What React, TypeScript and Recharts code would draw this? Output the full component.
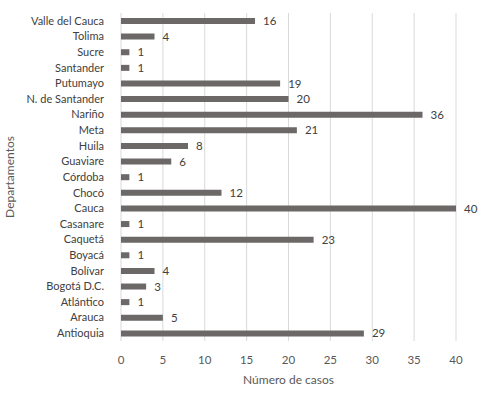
import React from "react";
import {
  BarChart,
  Bar,
  XAxis,
  YAxis,
  CartesianGrid,
  LabelList,
  Label,
} from "recharts";

const departamentos = [
  "Valle del Cauca",
  "Tolima",
  "Sucre",
  "Santander",
  "Putumayo",
  "N. de Santander",
  "Nariño",
  "Meta",
  "Huila",
  "Guaviare",
  "Córdoba",
  "Chocó",
  "Cauca",
  "Casanare",
  "Caquetá",
  "Boyacá",
  "Bolívar",
  "Bogotá D.C.",
  "Atlántico",
  "Arauca",
  "Antioquia",
];

const casos = [16, 4, 1, 1, 19, 20, 36, 21, 8, 6, 1, 12, 40, 1, 23, 1, 4, 3, 1, 5, 29];

const xTicks = [0, 5, 10, 15, 20, 25, 30, 35, 40];

const data = departamentos.map((name, i) => ({ name, casos: casos[i] }));

const FONT = "Lato, 'Open Sans', sans-serif";
const TEXT = "#595959";

function YTitle(props: any) {
  const vb = props.viewBox || {};
  const x = 9;
  const y = vb.y + vb.height / 2;
  return (
    <text
      x={x}
      y={y}
      transform={`rotate(-90, ${x}, ${y})`}
      textAnchor="middle"
      dominantBaseline="central"
      fill={TEXT}
      fontSize={12}
      fontFamily={FONT}
    >
      Departamentos
    </text>
  );
}

export default function App() {
  return (
    <div style={{ position: "absolute", left: 0, top: 0, background: "#fff" }}>
      <BarChart
        width={478}
        height={395}
        data={data}
        layout="vertical"
        margin={{ top: 13, right: 22, left: 0, bottom: 0 }}
      >
        <CartesianGrid stroke="#d9d9d9" horizontal={false} />
        <XAxis
          type="number"
          domain={[0, 40]}
          ticks={xTicks}
          axisLine={false}
          tickLine={false}
          tickMargin={9}
          height={54}
          tick={{ fill: TEXT, fontSize: 11.5, fontFamily: FONT }}
        >
          <Label
            value="Número de casos"
            position="insideBottom"
            offset={11}
            fill={TEXT}
            fontSize={12}
            fontFamily={FONT}
          />
        </XAxis>
        <YAxis
          type="category"
          dataKey="name"
          width={121}
          axisLine={false}
          tickLine={false}
          tickMargin={11}
          interval={0}
          tick={{ fill: "#404040", fontSize: 11, fontFamily: FONT }}
        >
          <Label content={<YTitle />} />
        </YAxis>
        <Bar dataKey="casos" fill="#6b6867" barSize={6} isAnimationActive={false}>
          <LabelList
            dataKey="casos"
            position="right"
            offset={8}
            fill="#404040"
            fontSize={11.5}
            fontFamily={FONT}
          />
        </Bar>
      </BarChart>
    </div>
  );
}
